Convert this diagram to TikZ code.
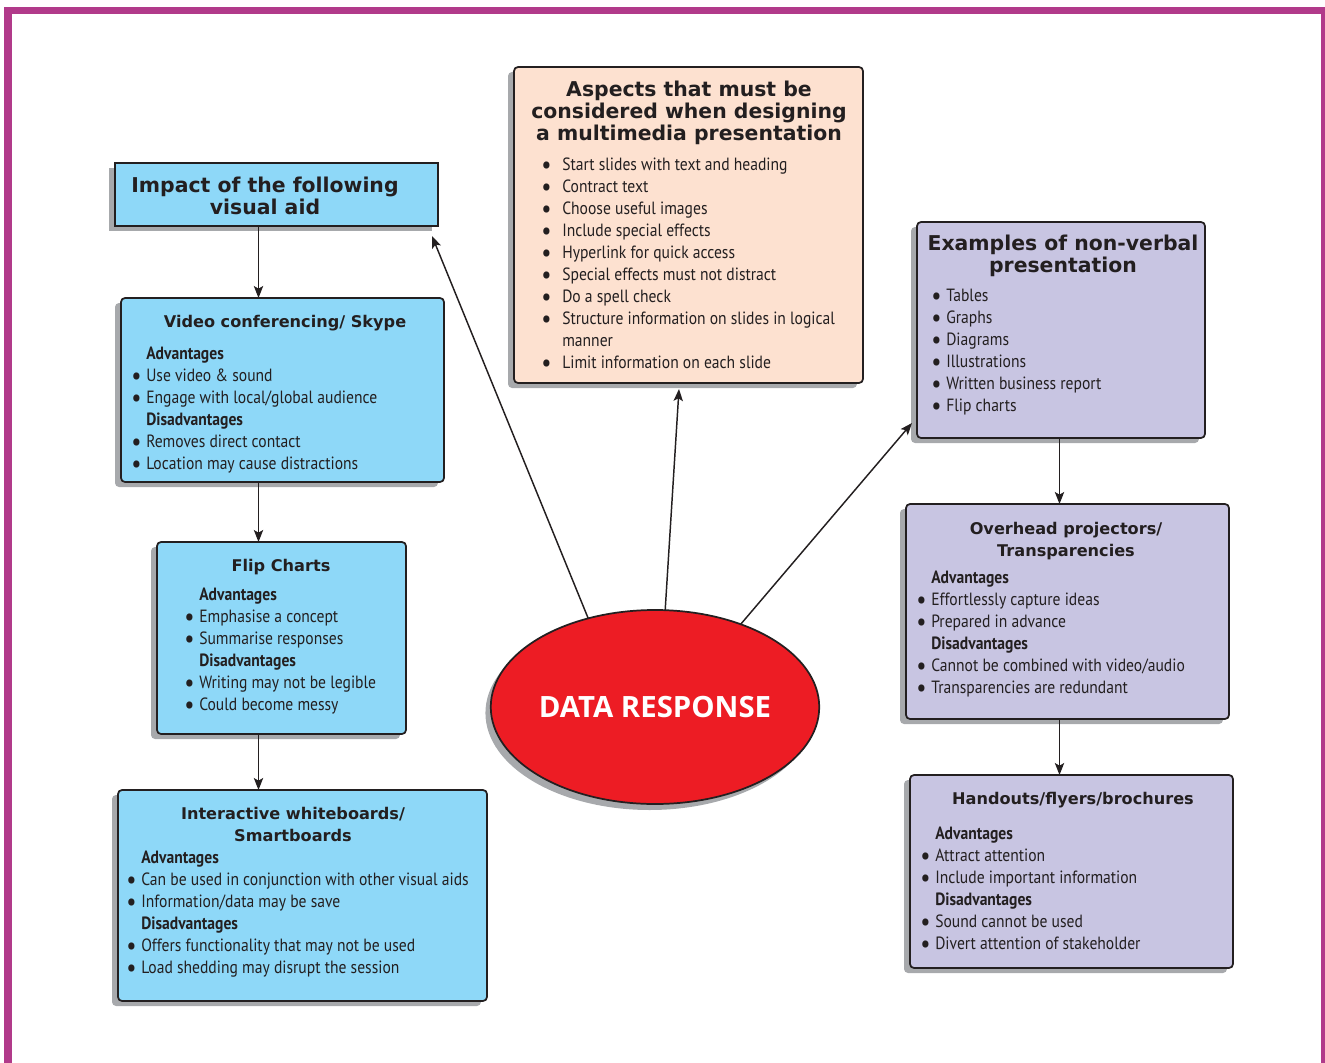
\documentclass[tikz,border=0pt]{standalone}
\usepackage{fontspec}
\setmainfont{PT Sans}[FakeStretch=0.88]
\newfontfamily\hfont{DejaVu Sans}
\newfontfamily\dfont{Open Sans}
\usetikzlibrary{arrows.meta,shapes.geometric,shadows}
\definecolor{framec}{HTML}{B13A8A}
\definecolor{cblue}{HTML}{8ED8F8}
\definecolor{cpeach}{HTML}{FDE1D0}
\definecolor{clav}{HTML}{C8C5E2}
\definecolor{cred}{HTML}{ED1C24}
\definecolor{shgray}{HTML}{A7A9AC}
\definecolor{ink}{HTML}{231F20}
\newcommand\bodyf{\fontsize{13.3}{16.5}\selectfont}
\newcommand\ttlbig{\hfont\bfseries\fontsize{15.3}{16.5}\selectfont}
\newcommand\ttlsmall{\hfont\bfseries\fontsize{12.1}{16.5}\selectfont}
\newcommand\st{\rule{0pt}{12pt}}
\newcommand\bb{\smash{\raisebox{-2.4pt}{\scalebox{1.45}{\textbullet}}}}
\newcommand\bl{\llap{\bb\hspace{3.5pt}}}
\newcommand\blw{\llap{\bb\hspace{8pt}}}
\begin{document}
\begin{tikzpicture}[x=0.75pt,y=-0.75pt,
  box/.style={draw=ink, line width=1.3pt, rounded corners=3pt, anchor=north west,
    inner sep=0, outer sep=0,
    drop shadow={shadow xshift=-4.5pt,shadow yshift=-3.75pt,fill=shgray,opacity=1}},
  arr/.style={draw=ink, line width=1.1pt, -{Stealth[length=9pt,width=7pt,inset=2pt]}},
  body/.style={anchor=north west, inner sep=0, align=left, font=\bodyf, text=ink},
  ttl/.style={anchor=north, inner sep=0, align=center, font=\ttlbig, text=ink},
  sttl/.style={ttl, font=\ttlsmall}]
\useasboundingbox (0,0) rectangle (1325,1063);
% frame
\fill[framec] (4,7) rectangle (12,1063);
\fill[framec] (4,7) rectangle (1325,14);
\fill[framec] (1321,7) rectangle (1325,1063);

\coordinate (lc) at (258.5,0);
\coordinate (rc) at (1059.5,0);

% boxes
\node[box, fill=cblue, rounded corners=0pt, minimum width=242.25pt, minimum height=47.25pt] (imp) at (115,163) {};
\node[box, fill=cblue, minimum width=242.25pt, minimum height=138pt] (vid) at (121,298) {};
\node[box, fill=cblue, minimum width=186.75pt, minimum height=144pt] (flip) at (157,542) {};
\node[box, fill=cblue, minimum width=276.75pt, minimum height=158.25pt] (iwb) at (118,790) {};
\node[box, fill=cpeach, minimum width=261.75pt, minimum height=237pt] (asp) at (514,67) {};
\node[box, fill=clav, minimum width=216pt, minimum height=162pt] (ex) at (917,222) {};
\node[box, fill=clav, minimum width=242.25pt, minimum height=161.25pt] (ohp) at (906,504) {};
\node[box, fill=clav, minimum width=242.25pt, minimum height=144.75pt] (hand) at (910,775) {};

\node[ellipse, draw=ink, line width=1.3pt, fill=cred, minimum width=240pt, minimum height=145.5pt,
  inner sep=0, outer sep=0,
  drop shadow={shadow xshift=-4pt,shadow yshift=-4.5pt,fill=shgray,opacity=1},
  font=\dfont\bfseries\fontsize{22}{24}\selectfont, text=white] (dr) at (655,707) {DATA RESPONSE};

% titles
\node[ttl] (timp) at (265,176) {\st Impact of the following\\visual aid};
\node[ttl] (tasp) at (689,80) {\st Aspects that must be\\considered when designing\\a multimedia presentation};
\node[ttl] (tex) at (1063,234) {\st Examples of non-verbal\\presentation};
\node[sttl] (tvid) at (285,311) {\st Video conferencing/ Skype};
\node[sttl] (tflip) at (281,555) {\st Flip Charts};
\node[sttl] (tiwb) at (293,803) {\st Interactive whiteboards/\\Smartboards};
\node[sttl] (tohp) at (1066,518) {\st Overhead projectors/\\Transparencies};
\node[sttl] (thand) at (1073,788) {\st Handouts/flyers/brochures};

% bodies
\node[body] (bvid) at (146,343) {\st\textbf{Advantages}\\
\bl Use video \& sound\\
\bl Engage with local/global audience\\
\textbf{Disadvantages}\\
\bl Removes direct contact\\
\bl Location may cause distractions};

\node[body] (bflip) at (199,584) {\st\textbf{Advantages}\\
\bl Emphasise a concept\\
\bl Summarise responses\\
\textbf{Disadvantages}\\
\bl Writing may not be legible\\
\bl Could become messy};

\node[body] (biwb) at (141,847) {\st\textbf{Advantages}\\
\bl Can be used in conjunction with other visual aids\\
\bl Information/data may be save\\
\textbf{Disadvantages}\\
\bl Offers functionality that may not be used\\
\bl Load shedding may disrupt the session};

\node[body] (basp) at (562,154) {\st\blw Start slides with text and heading\\
\blw Contract text\\
\blw Choose useful images\\
\blw Include special effects\\
\blw Hyperlink for quick access\\
\blw Special effects must not distract\\
\blw Do a spell check\\
\blw Structure information on slides in logical\\
manner\\
\blw Limit information on each slide};

\node[body] (bex) at (946,285) {\st\bl Tables\\
\bl Graphs\\
\bl Diagrams\\
\bl Illustrations\\
\bl Written business report\\
\bl Flip charts};

\node[body] (bohp) at (931,567) {\st\textbf{Advantages}\\
\bl Effortlessly capture ideas\\
\bl Prepared in advance\\
\textbf{Disadvantages}\\
\bl Cannot be combined with video/audio\\
\bl Transparencies are redundant};

\node[body] (bhand) at (935,823) {\st\textbf{Advantages}\\
\bl Attract attention\\
\bl Include important information\\
\textbf{Disadvantages}\\
\bl Sound cannot be used\\
\bl Divert attention of stakeholder};

% connectors
\coordinate (t1) at (432,236);
\coordinate (t2) at (679,389);
\coordinate (t3) at (912,423);
\draw[arr] (imp.south -| lc) -- (vid.north -| lc);
\draw[arr] (vid.south -| lc) -- (flip.north -| lc);
\draw[arr] (flip.south -| lc) -- (iwb.north -| lc);
\draw[arr] (ex.south -| rc) -- (ohp.north -| rc);
\draw[arr] (ohp.south -| rc) -- (hand.north -| rc);
\draw[arr] (dr.127) -- (t1);
\draw[arr] (dr.84) -- (t2);
\draw[arr] (dr.44) -- (t3);
\end{tikzpicture}
\end{document}
